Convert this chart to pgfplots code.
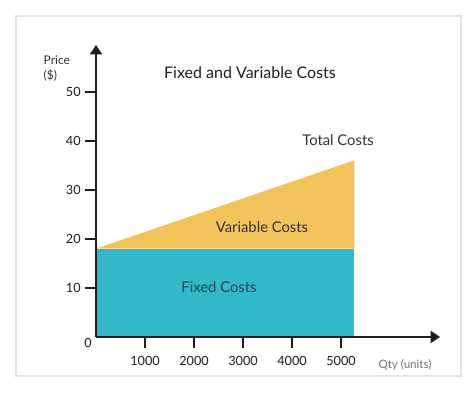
\documentclass[border=0pt]{standalone}
\usepackage{pgfplots}
\pgfplotsset{compat=1.18}
\usepackage{fontspec}
\setmainfont{Lato}
\usetikzlibrary{arrows.meta}
\definecolor{fixedc}{HTML}{33BACA}
\definecolor{varc}{HTML}{F3C35B}
\definecolor{txt}{HTML}{1E1E1E}
\definecolor{lbl}{HTML}{333333}
\definecolor{fixtxt}{HTML}{2A4152}
\definecolor{frame}{HTML}{E2E2E2}
\begin{document}
\begin{tikzpicture}[x=0.75pt,y=0.75pt]
\path (0,0) rectangle (474,396);
\draw[frame, line width=1.2pt] (16,20) rectangle (461,380);
\begin{axis}[
  at={(72pt,44.25pt)}, anchor=south west,
  scale only axis, width=258pt, height=219pt,
  xmin=0, xmax=7020, ymin=0, ymax=59.5,
  axis lines=left,
  axis on top,
  axis line style={line width=1.5pt, txt, -{Triangle[width=9pt,length=7pt]}},
  xtick={1000,2000,3000,4000,5000},
  ytick={10,20,30,40,50},
  xticklabels={\raisebox{-0.75pt}{1000},{2000},\raisebox{3pt}{3000},\raisebox{4.5pt}{4000},\raisebox{5.25pt}{5000}},
  tick align=outside,
  major tick length=8pt,
  tick style={line width=1.5pt, txt},
  /pgf/number format/assume math mode=true,
  /pgf/number format/set thousands separator={},
  tick label style={font=\fontsize{9.5}{11}\selectfont, text=txt},
  xticklabel style={yshift=-3pt},
  yticklabel style={xshift=0pt},
  clip=false,
]
\addplot[fill=fixedc, draw=none] coordinates {(0,0) (5270,0) (5270,18) (0,18)} -- cycle;
\addplot[fill=varc, draw=none] coordinates {(0,18) (5270,36) (5270,18)} -- cycle;
\end{axis}
\node[txt, font=\fontsize{9.5}{11}\selectfont] at (88,53) {0};
\node[txt, font=\fontsize{12}{14}\selectfont] at (250,323) {Fixed and Variable Costs};
\node[lbl, font=\fontsize{11.1}{13}\selectfont] at (338,256) {Total Costs};
\node[lbl, font=\fontsize{11.1}{13}\selectfont] at (262,169) {Variable Costs};
\node[fixtxt, font=\fontsize{11.1}{13}\selectfont] at (219,109) {Fixed Costs};
\node[lbl, font=\fontsize{9}{10}\selectfont, anchor=west] at (39,336) {Price};
\node[lbl, font=\fontsize{9}{10}\selectfont, anchor=west] at (39,321) {(\$)};
\node[gray!90!black, font=\fontsize{8.7}{10}\selectfont] at (405,31) {Qty (units)};
\end{tikzpicture}
\end{document}
